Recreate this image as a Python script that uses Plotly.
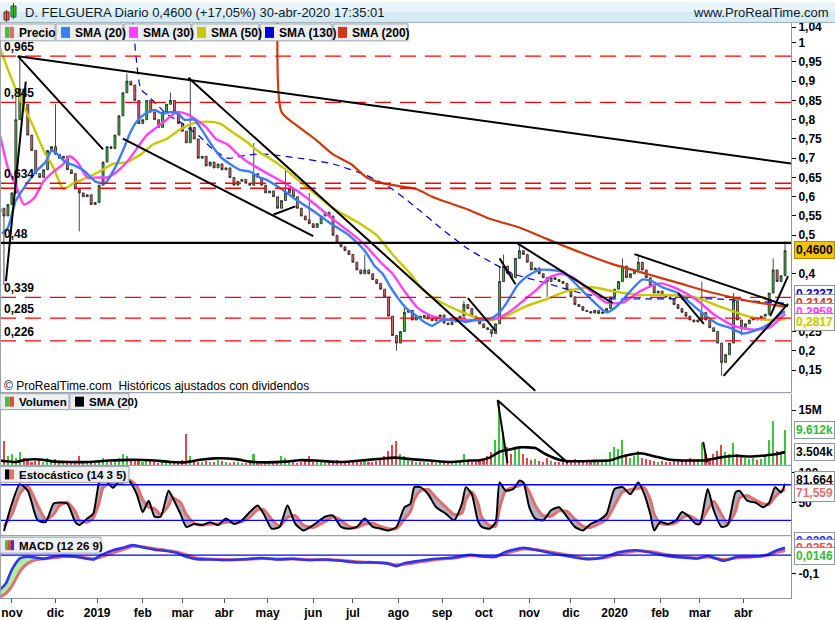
import numpy as np
import plotly.graph_objects as go
from plotly.subplots import make_subplots

START = "2018-10-24"          # session 0 (trading-day counter)

# ---------------- price: one bar every two sessions ----------------
close = [
 0.57,0.55,0.58,0.61,0.80,0.88,0.84,0.76,0.72,0.66,
 0.65,0.67,0.72,0.73,0.71,0.70,0.705,0.67,0.66,0.62,
 0.61,0.60,0.605,0.58,0.585,0.63,0.69,0.73,0.725,0.76,
 0.81,0.87,0.90,0.89,0.85,0.79,0.80,0.85,0.82,0.80,
 0.78,0.82,0.84,0.85,0.82,0.79,0.77,0.74,0.78,0.75,
 0.70,0.705,0.68,0.69,0.675,0.685,0.67,0.675,0.65,0.63,
 0.64,0.645,0.635,0.63,0.66,0.65,0.63,0.61,0.615,0.60,
 0.57,0.59,0.61,0.62,0.60,0.57,0.55,0.54,0.53,0.52,
 0.53,0.55,0.56,0.55,0.50,0.48,0.47,0.46,0.45,0.43,
 0.41,0.40,0.41,0.40,0.385,0.375,0.36,0.34,0.29,0.24,
 0.22,0.25,0.30,0.305,0.28,0.29,0.285,0.292,0.283,0.278,
 0.288,0.293,0.272,0.268,0.275,0.285,0.29,0.32,0.31,0.29,
 0.28,0.27,0.26,0.255,0.245,0.27,0.38,0.42,0.40,0.39,
 0.44,0.46,0.45,0.43,0.41,0.415,0.40,0.39,0.38,0.39,
 0.385,0.38,0.375,0.36,0.34,0.32,0.315,0.305,0.302,0.298,
 0.305,0.297,0.301,0.31,0.34,0.36,0.38,0.42,0.39,0.40,
 0.41,0.43,0.41,0.39,0.37,0.35,0.355,0.345,0.34,0.335,
 0.32,0.31,0.30,0.29,0.28,0.275,0.28,0.30,0.28,0.26,
 0.25,0.22,0.17,0.19,0.22,0.33,0.28,0.26,0.27,0.28,
 0.285,0.28,0.29,0.295,0.35,0.41,0.38,0.395,0.46]
first_open = 0.56
wick_high_bar = [4, 5, 14, 32, 43, 48, 64, 72, 78, 92, 102, 117, 126, 127, 131, 157, 161, 177, 185, 195, 198]
wick_high     = [0.86, 0.965, 0.84, 0.92, 0.87, 0.91, 0.74, 0.67, 0.61, 0.45, 0.32, 0.33, 0.42, 0.45, 0.48, 0.44, 0.45, 0.38, 0.35, 0.44, 0.484]
wick_low_bar  = [1, 20, 100, 124, 138, 182, 187]
wick_low      = [0.37, 0.51, 0.20, 0.235, 0.34, 0.135, 0.24]

volume_m = [
 3.5,6.5,2.5,3.0,2.0,3.5,2.0,1.5,1.0,1.2,
 1.5,1.0,2.0,1.2,1.8,0.8,0.6,0.9,0.7,1.0,
 2.5,1.0,0.8,0.6,0.7,1.5,2.0,1.2,1.0,1.5,
 2.0,3.0,2.5,1.8,1.2,1.5,1.0,1.8,1.2,0.8,
 0.7,1.0,1.2,0.8,0.7,0.8,1.5,8.5,2.5,1.2,
 1.0,0.8,1.2,0.9,1.0,1.5,1.2,0.8,0.7,1.0,
 0.8,0.6,0.7,0.8,3.0,1.0,1.2,0.7,0.6,0.8,
 1.0,2.5,2.0,1.0,0.8,0.7,0.9,1.2,2.5,1.0,
 0.8,1.0,0.7,0.6,1.2,1.5,1.0,0.8,0.9,1.0,
 1.2,1.0,1.5,1.0,1.0,1.2,1.8,2.5,4.0,5.5,
 6.5,3.0,2.5,1.5,1.2,1.0,0.9,0.8,0.7,0.8,
 0.7,0.8,0.9,1.0,0.8,1.0,1.2,3.0,1.5,1.0,
 0.9,1.2,1.5,2.5,3.5,7.0,17.7,9.0,5.0,3.0,
 5.0,4.5,3.0,2.0,1.5,1.8,1.2,1.0,2.0,1.2,
 1.0,0.9,1.0,1.2,1.5,1.8,1.2,1.0,0.9,1.5,
 1.0,0.8,0.9,1.5,3.5,5.0,4.5,7.0,3.0,2.0,
 2.5,4.0,2.0,1.8,1.5,1.2,1.0,1.2,0.9,1.0,
 1.2,1.5,1.2,1.5,2.0,1.5,1.8,6.0,3.0,2.0,
 3.0,4.0,5.5,3.5,3.0,6.0,3.0,2.5,2.0,1.8,
 2.0,1.5,1.8,2.5,7.0,12.0,4.0,3.5,9.612]

# ---------------- moving averages (session, value) ----------------
sma20_s = [1,4,8,13,18,23,26,29,33,38,43,48,53,58,62,66,69,73,78,82,86,90,93,98,101,106,111,116,121,126,131,134,142,150,159,167,176,184,189,193,197,201,205,209,214,218,223,230,235,240,245,248,251,255,258,261,265,268,272,278,284,293,301,306,311,318,324,329,334,342,348,355,362,368,375,382,388,395,396]
sma20_v = [0.505,0.52,0.59,0.63,0.665,0.69,0.72,0.71,0.69,0.68,0.665,0.64,0.635,0.675,0.72,0.77,0.795,0.815,0.825,0.815,0.82,0.815,0.80,0.80,0.78,0.74,0.705,0.685,0.67,0.665,0.65,0.645,0.62,0.59,0.56,0.53,0.50,0.46,0.42,0.40,0.365,0.335,0.31,0.295,0.275,0.265,0.28,0.28,0.275,0.28,0.28,0.285,0.295,0.32,0.345,0.37,0.39,0.40,0.41,0.41,0.405,0.36,0.32,0.30,0.315,0.355,0.385,0.38,0.365,0.35,0.325,0.295,0.27,0.26,0.245,0.255,0.27,0.30,0.302]
sma30_s = [0,4,8,12,17,22,27,32,35,39,44,49,54,59,64,69,74,79,84,89,94,99,104,109,115,120,125,130,135,142,150,159,167,176,184,192,198,204,211,218,226,235,243,251,258,265,271,277,283,289,298,306,314,323,333,342,352,360,370,380,388,396]
sma30_v = [0.76,0.675,0.63,0.58,0.595,0.64,0.665,0.685,0.705,0.69,0.65,0.65,0.65,0.665,0.69,0.725,0.76,0.78,0.80,0.82,0.815,0.80,0.78,0.75,0.735,0.71,0.69,0.675,0.66,0.64,0.615,0.58,0.545,0.51,0.475,0.43,0.40,0.355,0.31,0.29,0.28,0.28,0.28,0.285,0.305,0.335,0.36,0.39,0.40,0.39,0.355,0.325,0.325,0.355,0.375,0.36,0.33,0.295,0.265,0.255,0.26,0.2958]
sma50_s = [0,5,10,17,22,27,32,37,44,50,57,64,71,77,84,91,97,104,111,118,125,131,136,143,150,156,168,180,190,198,207,213,221,231,241,248,255,265,276,286,299,309,323,337,350,363,377,387,396]
sma50_v = [0.985,0.917,0.855,0.78,0.72,0.675,0.62,0.635,0.65,0.665,0.685,0.69,0.71,0.735,0.75,0.775,0.79,0.795,0.79,0.765,0.74,0.715,0.70,0.675,0.645,0.62,0.57,0.535,0.50,0.45,0.40,0.36,0.33,0.305,0.285,0.28,0.29,0.315,0.335,0.355,0.365,0.355,0.345,0.345,0.34,0.315,0.29,0.28,0.2817]
sma130_s = [67,71,74,79,84,92,101,107,115,121,128,135,151,168,185,195,208,222,236,246,259,276,293,309,326,343,360,377,396]
sma130_v = [1.06,0.88,0.865,0.84,0.815,0.79,0.755,0.725,0.70,0.705,0.71,0.71,0.70,0.685,0.655,0.63,0.58,0.52,0.465,0.435,0.40,0.375,0.35,0.335,0.335,0.335,0.335,0.33,0.3237]
sma200_s = [140,142,151,160,168,177,185,193,202,210,218,227,236,246,252,262,276,293,309,326,343,360,377,396]
sma200_v = [1.07,0.82,0.78,0.745,0.71,0.685,0.65,0.635,0.627,0.62,0.60,0.583,0.567,0.545,0.535,0.52,0.49,0.455,0.425,0.40,0.375,0.35,0.33,0.3142]

vol_sma_s = [0,8,13,20,28,35,45,55,66,76,86,93,101,108,119,126,134,144,151,159,172,182,192,199,207,217,227,237,242,247,252,257,262,270,275,283,290,298,308,313,323,330,338,348,356,363,371,378,386,391,396]
vol_sma_v = [1.2,0.8,1.4,1.5,0.9,0.8,0.8,1.2,1.4,1.3,0.8,0.7,1.4,1.8,1.6,0.9,0.7,0.9,1.3,1.2,0.8,1.2,1.7,2.0,1.6,1.2,0.8,1.2,1.3,2.0,3.6,4.2,4.8,4.6,3.0,1.3,1.0,1.1,1.3,2.2,3.2,2.4,1.4,1.2,1.3,2.0,2.5,2.3,2.6,2.9,3.504]

# ---------------- stochastic (14 3 5) ----------------
stoch_s = [2,6,10,14,19,23,27,30,34,38, 40,44,47,50,52,57,61,65,69,72, 75,78,81,85,87,91,94,98,102,106,
           110,114,118,122,126,130,133,137,141,145, 149,153,158,164,168,172,176,180,184,188,
           192,196,200,204,207,209,212,216,220,225, 229,233,235,238,241,243,247,250,252,255,
           259,262,264,267,270,274,278,282,286,290, 294,298,302,306,310,314,318,322,325,328,
           330,333,337,341,344,347,351,353,357,360, 364,367,371,373,377,381,385,388,391,394, 396]
stoch_k = [2,48,81,70,20,17,48,50,48,17, 12,23,31,84,92,75,89,87,64,34, 53,26,26,70,59,31,9,14,12,17,
           12,23,14,20,34,45,31,6,9,45, 14,3,12,26,28,9,6,9,23,9,
           6,3,9,42,48,76,76,64,42,31, 20,48,76,64,20,9,6,17,84,70,
           73,87,84,42,23,20,37,42,26,9, 3,14,20,31,73,76,64,84,64,31,
           3,17,14,20,34,28,14,14,73,37, 9,12,67,70,53,50,42,50,76,67, 81.664]
stoch_d = [10,30,65,78,45,22,30,45,50,35, 20,17,24,50,75,85,83,88,78,55, 42,40,30,45,58,50,30,15,12,14,
           14,17,17,18,25,38,38,22,10,25, 28,12,8,18,26,20,10,8,14,15,
           10,6,6,22,35,55,70,72,58,42, 30,32,55,68,50,25,11,10,40,70,
           76,78,82,68,45,28,27,36,35,22, 10,8,14,22,45,68,72,74,75,55,
           30,15,13,16,24,28,22,16,38,52, 30,14,35,58,62,54,48,47,60,69, 71.559]

# ---------------- MACD (12 26 9) ----------------
macd_s = [0,3,6,10,14,18,22,27,32,38, 43,47,51,57,62,67,73,78,83,89, 94,99,107,116,124,132,140,148,156,164,
          172,180,188,195,200,204,212,220,229,237, 245,250,255,264,271,279,288,296,304,312,
          321,328,336,344,352,357,365,372,379,387, 392,396]
macd_v = [-0.19,-0.155,-0.08,-0.018,-0.009,-0.013,-0.02,-0.009,-0.004,-0.009,
          -0.018,-0.024,0.0,0.027,0.04,0.055,0.04,0.03,0.024,0.013,
          -0.009,-0.022,-0.024,-0.027,-0.022,-0.016,-0.024,-0.02,-0.027,-0.024,
          -0.031,-0.04,-0.04,-0.045,-0.06,-0.045,-0.031,-0.02,-0.013,0.002,
          -0.009,-0.009,0.018,0.04,0.027,0.009,-0.009,-0.022,-0.013,0.016,
          0.027,0.015,-0.004,-0.013,-0.018,-0.005,-0.031,-0.009,-0.009,0.002, 0.027,0.0398]
signal_v = [-0.23,-0.21,-0.17,-0.09,-0.045,-0.025,-0.02,-0.015,-0.008,-0.008,
            -0.014,-0.02,-0.01,0.012,0.03,0.048,0.045,0.035,0.028,0.018,
            0.002,-0.015,-0.022,-0.025,-0.024,-0.018,-0.021,-0.021,-0.025,-0.025,
            -0.028,-0.036,-0.04,-0.043,-0.053,-0.05,-0.037,-0.025,-0.016,-0.004,
            -0.007,-0.008,0.008,0.033,0.03,0.015,-0.002,-0.018,-0.016,0.005,
            0.022,0.02,0.004,-0.009,-0.016,-0.01,-0.024,-0.015,-0.01,-0.002, 0.015,0.0252]

# ---------------- levels and trend lines ----------------
red_levels = [0.965, 0.845, 0.635, 0.622, 0.339, 0.285, 0.226]
black_level = 0.48
level_labels = ["0,965", "0,845", "0,634", "0,48", "0,339", "0,285", "0,226"]
level_label_values = [0.965, 0.845, 0.635, 0.48, 0.339, 0.285, 0.226]

tl_s0 = [9, 9, 3, 62, 95, 138, 236, 252, 261, 320, 342, 365, 388.5]
tl_p0 = [0.965, 0.965, 0.381, 0.751, 0.909, 0.554, 0.337, 0.44, 0.479, 0.451, 0.35, 0.135, 0.29]
tl_s1 = [399, 52, 13, 158, 270, 149, 250, 260, 309, 397.5, 355, 397.5, 397.5]
tl_p1 = [0.686, 0.723, 0.899, 0.4975, 0.0965, 0.575, 0.252, 0.373, 0.324, 0.316, 0.27, 0.322, 0.394]
vtl_s0 = [251, 251, 354.7]
vtl_v0 = [17.7, 17.7, 6.3]
vtl_s1 = [256, 286.5, 356.7]
vtl_v1 = [0.5, 0.5, 0.7]

month_starts = ["2018-11-01","2018-12-01","2019-01-01","2019-02-01","2019-03-01","2019-04-01",
                "2019-05-01","2019-06-01","2019-07-01","2019-08-01","2019-09-01","2019-10-01",
                "2019-11-01","2019-12-01","2020-01-01","2020-02-01","2020-03-01","2020-04-01"]
month_labels = ["nov","dic","2019","feb","mar","abr","may","jun","jul","ago","sep","oct",
                "nov","dic","2020","feb","mar","abr"]
# ticks whose labels are not hidden behind the value boxes
price_ticks = [1.04, 1.0, 0.95, 0.9, 0.85, 0.8, 0.75, 0.7, 0.65, 0.6, 0.55, 0.5, 0.4, 0.25, 0.2, 0.15]
price_tick_text = ["1,04","1","0,95","0,9","0,85","0,8","0,75","0,7","0,65","0,6","0,55","0,5","0,4","0,25","0,2","0,15"]

# ================= build =================
FONT = "Liberation Sans, Arial, sans-serif"
W, H = 835, 620
MR, MB = 44, 22
PW, PH = W - MR, H - MB

def fx(x): return x / PW
def fy(y): return (PH - y) / PH

n = len(close)
bar_s = np.arange(n) * 2
c = np.array(close)
o = np.concatenate([[first_open], c[:-1]])
hi = np.maximum(o, c)
lo = np.minimum(o, c)
for b, v in zip(wick_high_bar, wick_high):
    hi[b] = max(hi[b], v)
for b, v in zip(wick_low_bar, wick_low):
    lo[b] = min(lo[b], v)

GREEN = "#3cc43c"
SALMON = "#e46c6c"
vol_colors = [GREEN if cc >= oo else "#e04848" for cc, oo in zip(c, o)]

fig = make_subplots(rows=4, cols=1, shared_xaxes=True, vertical_spacing=0)

fig.add_trace(go.Candlestick(x=bar_s, open=o, high=hi, low=lo, close=c,
    increasing=dict(fillcolor=GREEN, line=dict(color="#1a1a1a", width=0.8)),
    decreasing=dict(fillcolor=SALMON, line=dict(color="#1a1a1a", width=0.8)),
    hoverinfo="skip", whiskerwidth=0), row=1, col=1)

def line(xs, ys, color, width, row, dash=None, **kw):
    fig.add_trace(go.Scatter(x=xs, y=ys, mode="lines", hoverinfo="skip",
                             line=dict(color=color, width=width, dash=dash, shape="spline", smoothing=0.6), **kw),
                  row=row, col=1)

line(sma130_s, sma130_v, "#0000cc", 1.2, 1, dash="7px,5px")
line(sma200_s, sma200_v, "#cc3a10", 2.2, 1)
line(sma50_s, sma50_v, "#c8c800", 2.4, 1)
line(sma30_s, sma30_v, "#ff40ff", 2.4, 1)
line(sma20_s, sma20_v, "#3d7df5", 2.4, 1)

fig.add_trace(go.Bar(x=bar_s, y=volume_m, marker=dict(color=vol_colors, line=dict(width=0)),
                     width=0.8, hoverinfo="skip"), row=2, col=1)
line(vol_sma_s, vol_sma_v, "#000000", 2.6, 2)

line(stoch_s, stoch_d, "#e07070", 3, 3)
line(stoch_s, stoch_k, "#000000", 2, 3, fill="tonexty", fillcolor="rgba(150,150,180,0.75)")

line(macd_s, signal_v, "#e07070", 3, 4)
line(macd_s, macd_v, "#3333ee", 2.6, 4, fill="tonexty", fillcolor="rgba(150,235,140,0.8)")

shapes = []
annotations = []

# horizontal levels
for v in red_levels:
    shapes.append(dict(type="line", xref="paper", yref="y", x0=0, x1=1, y0=v, y1=v,
                       line=dict(color="#ff0000", width=1.3, dash="16px,9px")))
shapes.append(dict(type="line", xref="paper", yref="y", x0=0, x1=1, y0=black_level, y1=black_level,
                   line=dict(color="#000000", width=2.2)))
for s0, p0, s1, p1 in zip(tl_s0, tl_p0, tl_s1, tl_p1):
    shapes.append(dict(type="line", xref="x", yref="y", x0=s0, y0=p0, x1=s1, y1=p1,
                       line=dict(color="#000000", width=2)))
for s0, p0, s1, p1 in zip(vtl_s0, vtl_v0, vtl_s1, vtl_v1):
    shapes.append(dict(type="line", xref="x", yref="y2", x0=s0, y0=p0, x1=s1, y1=p1,
                       line=dict(color="#000000", width=2)))
for v in (80, 20):
    shapes.append(dict(type="line", xref="paper", yref="y3", x0=0, x1=1, y0=v, y1=v,
                       line=dict(color="#0000ff", width=1.4)))
shapes.append(dict(type="line", xref="paper", yref="y4", x0=0, x1=1, y0=0, y1=0,
                   line=dict(color="#0000ff", width=1.4)))

def rect(x0, y0, x1, y1, fill, line_color=None):
    shapes.append(dict(type="rect", xref="paper", yref="paper", x0=fx(x0), x1=fx(x1),
                       y0=fy(y1), y1=fy(y0), fillcolor=fill, layer="above",
                       line=dict(color=line_color or fill, width=1 if line_color else 0)))

def hline_px(y, x0, x1, color, width=1):
    shapes.append(dict(type="line", xref="paper", yref="paper", x0=fx(x0), x1=fx(x1),
                       y0=fy(y), y1=fy(y), line=dict(color=color, width=width), layer="above"))

def text(x, y, s, size=12, bold=True, color="#000000", anchor="left"):
    annotations.append(dict(xref="paper", yref="paper", x=fx(x), y=fy(y), text=s, showarrow=False,
                            xanchor=anchor, yanchor="middle",
                            font=dict(family=FONT, size=size, color=color,
                                      weight="bold" if bold else "normal")))

# title bar
rect(0, 0, W, 10, "#e8f4fa")
rect(0, 10, W, 20, "#d6ebf4")
hline_px(20.5, 0, W, "#9fb0bc")
rect(4, 10, 9, 18, "#e06060", "#7a2020")
shapes.append(dict(type="line", xref="paper", yref="paper", x0=fx(6.5), x1=fx(6.5), y0=fy(20), y1=fy(8),
                   line=dict(color="#7a2020", width=1), layer="above"))
rect(11, 4, 16, 15, "#38c038", "#206020")
shapes.append(dict(type="line", xref="paper", yref="paper", x0=fx(13.5), x1=fx(13.5), y0=fy(17), y1=fy(1),
                   line=dict(color="#206020", width=1), layer="above"))
text(23, 11, "D. FELGUERA Diario 0,4600 (+17,05%) 30-abr-2020 17:35:01", size=13, bold=False, color="#0a1a2a")
text(831, 11, "www.ProRealTime.com", size=13, bold=False, color="#0a1a2a", anchor="right")

# panel frames
hline_px(392, 0, PW, "#9aa4ae", 1.2)
hline_px(465, 0, PW, "#9aa4ae", 1.2)
hline_px(535.5, 0, PW, "#9aa4ae", 1.2)
shapes.append(dict(type="line", xref="paper", yref="paper", x0=fx(0.5), x1=fx(0.5), y0=fy(21), y1=fy(PH),
                   line=dict(color="#9aa4ae", width=1), layer="above"))

def legend_box(x0, x1, y0, y1, icon_colors, label, size=12):
    rect(x0, y0, x1, y1, "#eceef0", "#9aa4ae")
    k = len(icon_colors)
    w = 9.0 / k
    for j, col in enumerate(icon_colors):
        rect(x0 + 5 + j * w, y0 + 3, x0 + 5 + (j + 1) * w, y1 - 3, col)
    text(x0 + 17, (y0 + y1) / 2 + 0.5, label, size=size)

legend_box(0, 55, 22, 39, [GREEN, SALMON], "Precio")
legend_box(56, 123, 22, 39, ["#3d7df5"], "SMA (20)")
legend_box(124, 191, 22, 39, ["#ff40ff"], "SMA (30)")
legend_box(192, 259, 22, 39, ["#c8c800"], "SMA (50)")
legend_box(260, 332, 22, 39, ["#0000cc"], "SMA (130)")
legend_box(333, 408, 22, 39, ["#cc3a10"], "SMA (200)")
legend_box(0, 69, 393, 409, [GREEN, "#e04848"], "Volumen", 11.5)
legend_box(70, 129, 393, 409, ["#000000"], "SMA (20)", 11.5)
legend_box(0, 129, 466, 482, ["#000000", "#e07070"], "Estocástico (14 3 5)", 11.5)
legend_box(0, 101, 537, 553, [GREEN, "#e04848", "#3333ee"], "MACD (12 26 9)", 11.5)

text(2, 385, "© ProRealTime.com  Históricos ajustados con dividendos", size=12, bold=False)

# level labels on the left
for s, v in zip(level_labels, level_label_values):
    annotations.append(dict(xref="paper", yref="y", x=0, y=v, xanchor="left", yanchor="bottom",
                            xshift=2, yshift=0, text=s, showarrow=False,
                            font=dict(family=FONT, size=12, color="#000000", weight="bold")))

def value_box(yref, value, s, color, bg, border, yshift):
    annotations.append(dict(xref="paper", x=1, xanchor="left", xshift=3, yref=yref, y=value,
                            yanchor="middle", yshift=yshift, text=s, showarrow=False,
                            bgcolor=bg, bordercolor=border, borderwidth=1, borderpad=1,
                            font=dict(family=FONT, size=12, color=color, weight="bold")))

value_box("y", c[-1], "0,4600", "#000000", "#f7c200", "#b08a00", 1)
value_box("y", sma130_v[-1], "0,3237", "#0000cc", "#ffffff", "#8a98a6", 9.5)
value_box("y", sma200_v[-1], "0,3142", "#cc3a10", "#ffffff", "#8a98a6", 4)
value_box("y", sma30_v[-1], "0,2958", "#ff40ff", "#ffffff", "#8a98a6", 2)
value_box("y", sma50_v[-1], "0,2817", "#c8c800", "#fbfbe6", "#8a98a6", -3)
value_box("y2", volume_m[-1], "9.612k", "#33bb33", "#ffffff", "#8a98a6", 0)
value_box("y2", vol_sma_v[-1], "3.504k", "#000000", "#ffffff", "#8a98a6", 0)
value_box("y3", stoch_k[-1], "81,664", "#000000", "#ffffff", "#8a98a6", 4)
value_box("y3", stoch_d[-1], "71,559", "#e07070", "#ffffff", "#8a98a6", -3)
value_box("y4", macd_v[-1], "0,0398", "#3333ee", "#ffffff", "#8a98a6", 7)
value_box("y4", signal_v[-1], "0,0252", "#e05050", "#ffffff", "#8a98a6", 3)
value_box("y4", macd_v[-1] - signal_v[-1], "0,0146", "#33bb33", "#ffffff", "#8a98a6", -4)

month_pos = np.busday_count(START, month_starts)

axis_common = dict(showgrid=False, zeroline=False, showline=True, linecolor="#8a98a6", linewidth=1)
tickfont = dict(family=FONT, size=12, color="#000000", weight="bold")
for i in range(1, 5):
    xa = dict(range=[0, 399], **axis_common, showticklabels=(i == 4), ticks="" if i < 4 else "outside")
    if i == 4:
        xa.update(tickvals=month_pos, ticktext=month_labels, ticklen=4, tickcolor="#555555", tickfont=tickfont)
    fig.update_layout(**{f"xaxis{'' if i == 1 else i}": xa})

yax = dict(side="right", ticks="outside", ticklen=4, tickcolor="#000000", tickfont=tickfont, **axis_common)
fig.update_layout(
    yaxis=dict(domain=[fy(391), fy(21)], range=[0.0939, 1.0512], tickvals=price_ticks, ticktext=price_tick_text, **yax),
    yaxis2=dict(domain=[fy(464.5), fy(393)], range=[0, 19.48], tickvals=[15], ticktext=["15M"], **yax),
    yaxis3=dict(domain=[fy(535), fy(465.5)], range=[-5, 111.67], tickvals=[100, 50], ticktext=["100", "50"], **yax),
    yaxis4=dict(domain=[0, fy(536)], range=[-0.235, 0.1038], tickvals=[-0.1], ticktext=["-0,1"], **yax),
)

fig.update_layout(
    width=W, height=H, margin=dict(l=0, r=MR, t=0, b=MB),
    paper_bgcolor="#ffffff", plot_bgcolor="#ffffff", showlegend=False,
    xaxis_rangeslider_visible=False, bargap=0, shapes=shapes, annotations=annotations,
    font=dict(family=FONT),
)
fig.write_html("out.html")
